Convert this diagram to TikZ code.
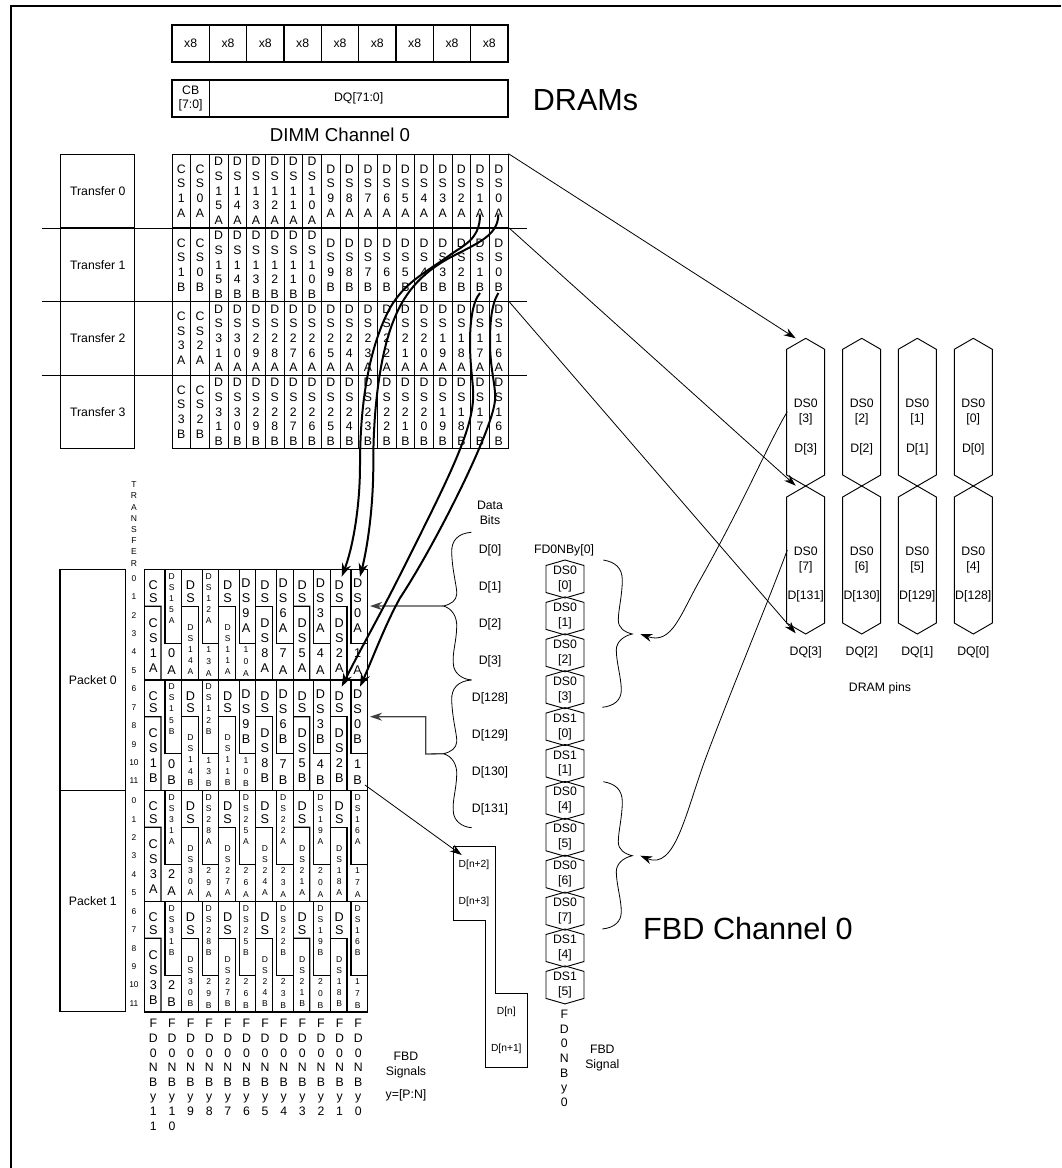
\documentclass[tikz,border=0pt]{standalone}
\usepackage{fontspec}
\setmainfont{Liberation Sans}
\usetikzlibrary{arrows.meta}

%% stacked letters, one per line, spacing taken from \vchskip
\newlength\vchskip
\makeatletter
\newcommand{\vchars}[1]{\vbox{\baselineskip=\vchskip\lineskiplimit=-100pt\edef\vch@t{#1}\expandafter\vch@loop\vch@t\relax}}
\def\vch@loop#1{\ifx#1\relax\else\hbox to 0pt{\hss#1\hss\vrule height .75em depth .05em width 0pt}\expandafter\vch@loop\fi}
\makeatother
\newcommand{\stackbig}{\fontsize{9.5}{11}\selectfont\setlength\vchskip{11.25pt}}
\newcommand{\stacksmall}{\fontsize{6.4}{8}\selectfont\setlength\vchskip{8.4pt}}
\newcommand{\stacktail}{\fontsize{9.5}{11}\selectfont\setlength\vchskip{12.2pt}}
\newcommand{\stacktailsm}{\fontsize{6.4}{8}\selectfont\setlength\vchskip{8.8pt}}
\newcommand{\stacktop}{\fontsize{9.5}{11}\selectfont\setlength\vchskip{9.5pt}}
\newcommand{\stackgrid}{\fontsize{9.2}{11}\selectfont\setlength\vchskip{11pt}}

\newcommand{\hexat}[4]{% center x, top apex, bottom apex, shoulder
  \draw[hexline] (#1,#2) -- (#1+19,#2+#4) -- (#1+19,#3-#4) -- (#1,#3)
    -- (#1-19,#3-#4) -- (#1-19,#2+#4) -- cycle;}

\newcommand{\xferrow}[4]{% row, y center, suffix, labels
  \foreach \lbl [count=\c from 0] in #4 {
    \node[gridcell] (grid#1-\c) at (181.33+18.67*\c,#2) {\vchars{\lbl#3}};
  }}

\newcommand{\pktrow}[4]{% y top, suffix, cell list, name
  \foreach \k/\tp/\lo/\lost/\up/\upst/\tl/\tlst in #3 {
    \draw[stair] (144.3+37.2*\k,#1+36.7) -- ++(16.7,0) -- (161+37.2*\k,#1+110.5);
    \draw[stair] (165+37.2*\k,#1) -- ++(0,73.7) -- (181.5+37.2*\k,#1+73.7);
    \draw[thin line] (181.5+37.2*\k,#1) -- (181.5+37.2*\k,#1+110.5);
    \node[toptext] (#4-\k-top) at (153.3+37.2*\k,#1+22) {\vchars{\tp}};
    \node[\lost] (#4-\k-lo) at (153.3+37.2*\k,#1+78) {\vchars{\lo#2}};
    \node[\upst] (#4-\k-up) at (171.6+37.2*\k,#1+31) {\vchars{\up#2}};
    \node[\tlst] (#4-\k-tail) at (171.6+37.2*\k,#1+92) {\vchars{\tl#2}};
  }}

\def\xferlow{CS1,CS0,DS15,DS14,DS13,DS12,DS11,DS10,DS9,DS8,DS7,DS6,DS5,DS4,DS3,DS2,DS1,DS0}
\def\xferhigh{CS3,CS2,DS31,DS30,DS29,DS28,DS27,DS26,DS25,DS24,DS23,DS22,DS21,DS20,DS19,DS18,DS17,DS16}
\def\pktzero{0/CS/CS1/lowL/DS15/upS/0/tailL,1/DS/DS14/lowS/DS12/upS/13/tailS,2/DS/DS11/lowS/DS9/upL/10/tailS,3/DS/DS8/lowL/DS6/upL/7/tailL,4/DS/DS5/lowL/DS3/upL/4/tailL,5/DS/DS2/lowL/DS0/upL/1/tailL}
\def\pktone{0/CS/CS3/lowL/DS31/upS/2/tailL,1/DS/DS30/lowS/DS28/upS/29/tailS,2/DS/DS27/lowS/DS25/upS/26/tailS,3/DS/DS24/lowS/DS22/upS/23/tailS,4/DS/DS21/lowS/DS19/upS/20/tailS,5/DS/DS18/lowS/DS16/upS/17/tailS}

\begin{document}
\begin{tikzpicture}[
  x=0.75pt,y=-0.75pt,
  >=Stealth,
  font=\fontsize{9.2}{11.2}\selectfont,
  thin line/.style={line width=0.7pt},
  thick box/.style={draw,line width=1.1pt,inner sep=0pt,align=center},
  gridcell/.style={draw,line width=0.7pt,inner sep=0pt,minimum width=14pt,minimum height=55.2pt,font=\stackgrid},
  xferbox/.style={draw,line width=0.8pt,inner sep=0pt,minimum width=55.7pt,minimum height=55.3pt},
  pktbox/.style={draw,line width=0.8pt,inner sep=0pt,minimum width=49.3pt,minimum height=165.75pt},
  stair/.style={line width=0.85pt},
  stackL/.style={inner sep=0pt,font=\stackbig},
  stackS/.style={inner sep=0pt,font=\stacksmall},
  toptext/.style={inner sep=0pt,font=\stacktop},
  lowL/.style={stackL,yshift=1.5pt},
  lowS/.style={stackS,yshift=-1.5pt},
  upL/.style={stackL,yshift=-4pt},
  upS/.style={stackS,yshift=1.5pt},
  tailL/.style={inner sep=0pt,font=\stacktail},
  tailS/.style={inner sep=0pt,font=\stacktailsm},
  label/.style={inner sep=0pt,align=center},
  tinylabel/.style={inner sep=0pt,font=\fontsize{7.7}{9}\selectfont},
  numlabel/.style={inner sep=0pt,font=\fontsize{6.3}{8}\selectfont},
  hexline/.style={line width=0.7pt},
  pinarrow/.style={line width=0.6pt,-{Stealth[length=9pt,width=6pt]}},
  busarrow/.style={line width=1pt,black!75,-{Stealth[length=9pt,width=6pt]}},
  swaparrow/.style={line width=1.5pt,-{Stealth[length=10pt,width=7pt]}},
  leftbrc/.pic={
    \draw[line width=0.6pt] (28,0) .. controls (15,1) and (8,8) .. (8.4,20)
      .. controls (9,40) and (14,55) .. (13.4,62) .. controls (13,68) and (8,72) .. (0,73.7)
      .. controls (9,76) and (14,85) .. (13.4,95) .. controls (13,110) and (9,120) .. (10,131)
      .. controls (10,140) and (18,147) .. (28.4,147.7);
    \coordinate (-tip) at (0,73.7);
  },
  rightbrc/.pic={
    \draw[line width=0.6pt] (-29,0) .. controls (-17,2) and (-10,8) .. (-10,20)
      .. controls (-10,35) and (-14,50) .. (-14,60) .. controls (-14,68) and (-8,72) .. (0,74)
      .. controls (-9,76) and (-16,82) .. (-16,90) .. controls (-16,102) and (-11,118) .. (-11,130)
      .. controls (-11,140) and (-18,146) .. (-30,147.3);
    \coordinate (-tip) at (8,74);
  },
]
\useasboundingbox (0,0) rectangle (1061,1168);

%% =============================================
%% Page frame
%% =============================================
\coordinate (framebl) at (11,1168);
\coordinate (frametl) at (11,6);
\coordinate (frametr) at (1061,6);
\draw[line width=1.5pt] (framebl) -- (frametl) -- (frametr);

%% =============================================
%% DIMM devices and data bus
%% =============================================
\foreach \i in {0,...,8}
  \node[thick box,minimum width=28pt,minimum height=27.75pt] (dev\i) at (190.67+37.33*\i,43.5) {x8};

\node[thick box,minimum width=28pt,minimum height=27.75pt] (cb) at (190.67,98.5) {CB\\{[}7:0{]}};
\node[thick box,minimum width=224pt,minimum height=27.75pt] (dq) at (358.67,98.5) {DQ[71:0]};

\node[label,font=\fontsize{22.9}{26}\selectfont] (drams) at (585.5,100) {DRAMs};
\node[label,font=\fontsize{14}{16}\selectfont] (dimm) at (340,135) {DIMM Channel 0};

%% =============================================
%% DIMM transfers
%% =============================================
\foreach \i/\yc in {0/191,1/264.75,2/338.25,3/412}
  \node[xferbox] (xfer\i) at (97.8,\yc) {Transfer \i};

\xferrow{0}{191}{A}{\xferlow}
\xferrow{1}{264.75}{B}{\xferlow}
\xferrow{2}{338.25}{A}{\xferhigh}
\xferrow{3}{412}{B}{\xferhigh}

\foreach \i/\yr in {0/228,1/301.7,2/375.3} {
  \coordinate (rule\i l) at (41.7,\yr);
  \coordinate (rule\i r) at (526.7,\yr);
  \draw[thin line] (rule\i l) -- (rule\i r);
}

%% =============================================
%% DRAM pins
%% =============================================
\foreach \cx/\hi/\lo/\bit/\high in {805.7/3/7/3/131,861.7/2/6/2/130,917.3/1/5/1/129,973.3/0/4/0/128} {
  \hexat{\cx}{338.3}{486}{11}
  \hexat{\cx}{486}{634}{11}
  \node[label] (pin\bit up) at (\cx,412) {DS0\\{[}\hi{]}};
  \node[label] (pin\bit d) at (\cx,449) {D[\bit]};
  \node[label] (pin\bit lo) at (\cx,560) {DS0\\{[}\lo{]}};
  \node[label] (pin\bit h) at (\cx,596.7) {D[\high]};
  \node[label] (pin\bit q) at (\cx,652) {DQ[\bit]};
}
\node[label] (pinsname) at (880,688.7) {DRAM pins};

%% =============================================
%% FBD packets
%% =============================================
\node[pktbox] (pkt0) at (92.85,680) {Packet 0};
\node[pktbox] (pkt1) at (92.85,901) {Packet 1};

\node[inner sep=0pt,font=\stacksmall,anchor=north] (xfername) at (134,481) {\vchars{TRANSFER}};
\foreach \p/\yb in {0/578.3,1/800.7}
  \foreach \n in {0,...,11}
    \node[numlabel] (tick\p-\n) at (134,\yb+18.43*\n) {\n};

\draw[stair] (144.3,569.5) rectangle (367.7,1012);
\draw[stair] (144.3,680) -- (367.7,680);
\draw[stair] (144.3,790.5) -- (367.7,790.5);
\draw[stair] (144.3,901.5) -- (367.7,901.5);

\pktrow{569.5}{A}{\pktzero}{pa}
\pktrow{680}{B}{\pktzero}{pb}
\pktrow{790.5}{A}{\pktone}{pc}
\pktrow{901.5}{B}{\pktone}{pd}

\setlength\vchskip{10.95pt}
\foreach \y [count=\c from 0] in {11,10,9,8,7,6,5,4,3,2,1,0}
  \node[inner sep=0pt,anchor=north,font=\fontsize{9.2}{11}\selectfont] (sig\y) at (153.3+18.63*\c,1018.5) {\vchars{FD0NBy\y}};

\node[label] (sigsname) at (406,1065) {FBD\\Signals};
\node[label] (sigsrange) at (406,1095) {y=[P:N]};

%% =============================================
%% Data bits
%% =============================================
\node[label] (databits) at (490,513.2) {Data\\Bits};
\foreach \b [count=\i from 0] in {0,1,2,3,128,129,130,131}
  \node[label] (dbit\b) at (490,550.7+36.9*\i) {D[\b]};

\pic (brA) at (443.3,532.3) {leftbrc};
\pic (brB) at (443.3,680) {leftbrc};

%% =============================================
%% Nibble staircase
%% =============================================
\draw[thin line] (453.3,846) -- (495.3,846) -- (495.3,993.3) -- (527.3,993.3) -- (527.3,1067.3)
  -- (485.7,1067.3) -- (485.7,920) -- (453.3,920) -- cycle;
\node[tinylabel] (nib2) at (474,864.7) {D[n+2]};
\node[tinylabel] (nib3) at (474,901.7) {D[n+3]};
\node[tinylabel] (nib0) at (506.3,1011.7) {D[n]};
\node[tinylabel] (nib1) at (506.3,1048.7) {D[n+1]};

%% =============================================
%% FBD signal column
%% =============================================
\node[label] (fdname) at (564,550.7) {FD0NBy[0]};
\foreach \nm/\b [count=\i from 0] in {DS0/0,DS0/1,DS0/2,DS0/3,DS1/0,DS1/1,DS0/4,DS0/5,DS0/6,DS0/7,DS1/4,DS1/5} {
  \pgfmathsetmacro{\yc}{579+36.9*\i}
  \pgfmathsetmacro{\yt}{\yc-19}
  \pgfmathsetmacro{\yb}{\yc+19}
  \hexat{565}{\yt}{\yb}{5.5}
  \node[label] (hex\i) at (565,\yc) {\nm\\{[}\b{]}};
}
\pic (brC) at (632.3,560) {rightbrc};
\pic (brD) at (632.3,781.7) {rightbrc};

\node[inner sep=0pt,anchor=north,font=\fontsize{9.2}{11}\selectfont] (fdstack) at (564.3,1009.2) {\vchars{FD0NBy0}};
\node[label] (fdsig) at (602.3,1058.2) {FBD\\Signal};
\node[label,font=\fontsize{23}{26}\selectfont] (fbd) at (748,929) {FBD Channel 0};

%% =============================================
%% Connections
%% =============================================
\coordinate (pinA) at (795.7,338.3);
\coordinate (pinB) at (795.7,485.7);
\coordinate (pinC) at (795.7,633.3);
\draw[pinarrow] (grid0-17.north east) -- (pinA);
\draw[pinarrow] (grid1-17.north east) -- (pinB);
\draw[pinarrow] (grid2-17.north east) -- (pinC);

% back from the pins to the signal groups
\coordinate (pinfromA) at (787.3,411.7);
\coordinate (pinfromB) at (787.3,550);
\draw[pinarrow] (pinfromA) .. controls (770,440) and (745,500) .. (700,580)
  .. controls (680,615) and (672,645) .. (brC-tip);
\draw[pinarrow] (pinfromB) .. controls (765,610) and (735,680) .. (705,760)
  .. controls (685,815) and (675,870) .. (brD-tip);

\coordinate (endD1) at (370,606);
\coordinate (endD129) at (370,716.7);
\coordinate (elbow1) at (425.7,754);
\coordinate (elbow2) at (425.7,716.7);
\draw[busarrow] (brA-tip) -- (endD1);
\draw[busarrow] (brB-tip) -- (elbow1) -- (elbow2) -- (endD129);

\coordinate (cellout) at (365,785);
\coordinate (nibin) at (461.7,855);
\draw[pinarrow] (cellout) -- (nibin);

% swapped data strobes
\coordinate (fromDSa) at (480,215);
\coordinate (fromDSb) at (498.3,215);
\coordinate (fromDSc) at (480,293);
\coordinate (fromDSd) at (498.3,293);
\coordinate (toDSa) at (341.7,576.7);
\coordinate (toDSb) at (360,576.7);
\coordinate (toDSc) at (341.7,686.7);
\coordinate (toDSd) at (360,686.7);
\draw[swaparrow] (fromDSa) .. controls (480,240) and (462,246) .. (450,255)
  .. controls (425,273) and (405,282) .. (390,308)
  .. controls (370,345) and (360,400) .. (360,465)
  .. controls (360,510) and (352,550) .. (toDSa);
\draw[swaparrow] (fromDSb) .. controls (498,235) and (478,243) .. (455,255)
  .. controls (425,270) and (405,290) .. (393,322)
  .. controls (380,355) and (373,410) .. (373.3,465)
  .. controls (373.3,505) and (368,545) .. (toDSb);
\draw[swaparrow] (fromDSc) .. controls (472,302) and (470,325) .. (470,342)
  .. controls (470,370) and (474,385) .. (473,400)
  .. controls (471,435) and (445,485) .. (400,575)
  .. controls (380,615) and (360,650) .. (toDSc);
\draw[swaparrow] (fromDSd) .. controls (491,305) and (490,325) .. (490,342)
  .. controls (490,370) and (496,385) .. (495,400)
  .. controls (493,430) and (435,545) .. (400,598)
  .. controls (385,625) and (372,660) .. (toDSd);

\end{tikzpicture}
\end{document}
